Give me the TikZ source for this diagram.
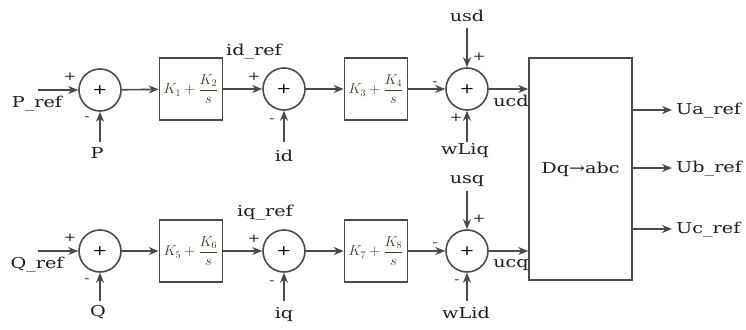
\documentclass[tikz,border=0pt]{standalone}
\usepackage{fontspec}
\setmainfont[FakeStretch=1.28]{DejaVu Serif}
\usetikzlibrary{arrows.meta,calc}
\definecolor{ln}{HTML}{4A4A4A}
\definecolor{tx}{HTML}{1E1E1E}
\definecolor{kx}{HTML}{4A3820}
\begin{document}
\begin{tikzpicture}[x=1pt,y=-1pt,
  sumnode/.style={circle,draw=ln,line width=1.6pt,minimum size=42pt,inner sep=0pt,font=\fontsize{14}{15}\selectfont},
  pibox/.style={draw=ln,line width=1.6pt,minimum width=63pt,minimum height=62pt,inner sep=0pt,text=kx,font=\fontsize{14.5}{15}\selectfont},
  bigbox/.style={draw=ln,line width=1.6pt,minimum width=103pt,minimum height=222pt,inner sep=0pt},
  lbl/.style={text=tx,inner sep=0pt,font=\fontsize{15}{17}\selectfont},
  sgn/.style={text=tx,inner sep=0pt,font=\fontsize{12}{12}\selectfont},
  sig/.style={draw=ln,line width=1.6pt,-{Stealth[length=10pt,width=8pt]}}
]
\useasboundingbox[fill=white] (0,0) rectangle (746,329);
% top row
\node[sumnode] (s1) at (100,90) {+};
\node[pibox] (b1) at (191,89) {$\displaystyle K_1+\frac{K_2}{s}$};
\node[sumnode] (s2) at (284,89) {+};
\node[pibox] (b2) at (376,89) {$\displaystyle K_3+\frac{K_4}{s}$};
\node[sumnode] (s3) at (467,89) {+};
% bottom row
\node[sumnode] (s4) at (100,251) {+};
\node[pibox] (b3) at (191,251) {$\displaystyle K_5+\frac{K_6}{s}$};
\node[sumnode] (s5) at (284,251) {+};
\node[pibox] (b4) at (376,251) {$\displaystyle K_7+\frac{K_8}{s}$};
\node[sumnode] (s6) at (467,251) {+};
% transform block
\node[bigbox,lbl] (big) at (580.5,169) {Dq→abc};

% free ends
\coordinate (pin) at (38,90);
\coordinate (pm) at (100,142);
\coordinate (idm) at (284,142);
\coordinate (usdc) at (467,28);
\coordinate (wlq) at (467,142);
\coordinate (qin) at (38,251);
\coordinate (qm) at (100,301);
\coordinate (iqm) at (284,301);
\coordinate (usqc) at (467,191);
\coordinate (wld) at (467,301);
\coordinate (oa) at (672,110);
\coordinate (ob) at (672,168);
\coordinate (oc) at (672,229);

% top connectors
\draw[sig] (pin) -- (s1);
\draw[sig] (pm) -- (s1);
\draw[sig] (s1) -- (b1);
\draw[sig] (b1) -- (s2);
\draw[sig] (idm) -- (s2);
\draw[sig] (s2) -- (b2);
\draw[sig] (b2) -- (s3);
\draw[sig] (usdc) -- (s3);
\draw[sig] (wlq) -- (s3);
\draw[sig] (s3.east) -- (s3.east -| big.west);
% bottom connectors
\draw[sig] (qin) -- (s4);
\draw[sig] (qm) -- (s4);
\draw[sig] (s4) -- (b3);
\draw[sig] (b3) -- (s5);
\draw[sig] (iqm) -- (s5);
\draw[sig] (s5) -- (b4);
\draw[sig] (b4) -- (s6);
\draw[sig] (usqc) -- (s6);
\draw[sig] (wld) -- (s6);
\draw[sig] (s6.east) -- (s6.east -| big.west);
% outputs
\draw[sig] (big.east |- oa) -- (oa);
\draw[sig] (big.east |- ob) -- (ob);
\draw[sig] (big.east |- oc) -- (oc);

% labels top
\node[lbl] (lpref) at (37,104) {P\_ref};
\node[lbl] (lp) at (97,153) {P};
\node[lbl] (lidref) at (254,52) {id\_ref};
\node[lbl] (lid) at (284,156) {id};
\node[lbl] (lusd) at (467,16) {usd};
\node[lbl] (lwliq) at (465,151) {wLiq};
\node[lbl] (lucd) at (511,101) {ucd};
\node[sgn] at (70,77) {+};
\node[sgn] at (87,119) {-};
\node[sgn] at (254,77) {+};
\node[sgn] at (272,121) {-};
\node[sgn] at (435,84) {-};
\node[sgn] at (479,57) {+};
\node[sgn] at (456,118) {+};
% labels bottom
\node[lbl] (lqref) at (37,265) {Q\_ref};
\node[lbl] (lq) at (98,312) {Q};
\node[lbl] (liqref) at (265,213) {iq\_ref};
\node[lbl] (liq) at (284,315) {iq};
\node[lbl] (lusq) at (467,181) {usq};
\node[lbl] (lwlid) at (466,313) {wLid};
\node[lbl] (lucq) at (511,265) {ucq};
\node[sgn] at (70,238) {+};
\node[sgn] at (87,281) {-};
\node[sgn] at (254,239) {+};
\node[sgn] at (272,283) {-};
\node[sgn] at (435,245) {-};
\node[sgn] at (479,219) {+};
\node[sgn] at (457,282) {-};
% outputs labels
\node[lbl,anchor=west] (lua) at (676,111) {Ua\_ref};
\node[lbl,anchor=west] (lub) at (676,169) {Ub\_ref};
\node[lbl,anchor=west] (luc) at (676,230) {Uc\_ref};
\end{tikzpicture}
\end{document}
